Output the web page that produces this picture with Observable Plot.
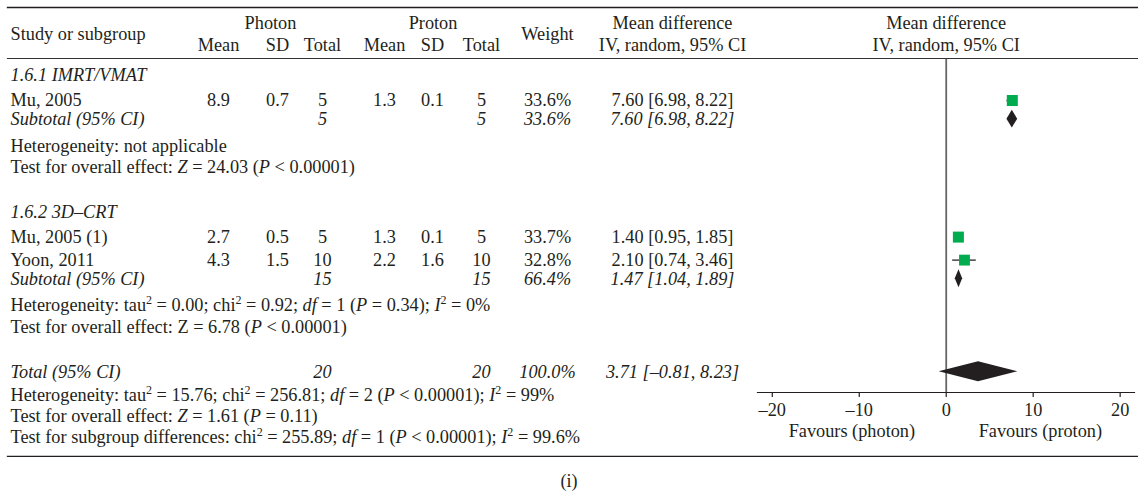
<!DOCTYPE html>
<html><head><meta charset="utf-8">
<script src="https://cdn.jsdelivr.net/npm/d3@7"></script>
<script src="https://cdn.jsdelivr.net/npm/@observablehq/plot@0.6"></script>
<style>
body{margin:0;background:#fff;font-family:"Liberation Serif",serif;color:#231f20}
#wrap{position:relative;width:1138px}
#body{position:relative;height:398px}
#forest{position:absolute;left:745px;top:0;width:393px}
#cap{text-align:center;font-size:18px;line-height:24px;margin-top:12px;width:1138px}
svg{display:block}
</style></head><body>
<div id="wrap"><div id="head"></div><div id="body"><div id="table"></div><div id="forest"></div></div><div id="cap">(i)</div></div>
<script>
// ---------- data ----------
const subgroups = ["1.6.1 IMRT/VMAT", "1.6.2 3D–CRT"];
const studies = ["Mu, 2005", "Mu, 2005 (1)", "Yoon, 2011"];
const studyGroup = [0, 1, 1];
const photonMean = [8.9, 2.7, 4.3];
const photonSD = [0.7, 0.5, 1.5];
const photonTotal = [5, 5, 10];
const protonMean = [1.3, 1.3, 2.2];
const protonSD = [0.1, 0.1, 1.6];
const protonTotal = [5, 5, 10];
const studyWeight = [33.6, 33.7, 32.8];
const studyMD = [7.60, 1.40, 2.10];
const studyLo = [6.98, 0.95, 0.74];
const studyHi = [8.22, 1.85, 3.46];

const subPhotonTotal = [5, 15];
const subProtonTotal = [5, 15];
const subWeight = [33.6, 66.4];
const subMD = [7.60, 1.47];
const subLo = [6.98, 1.04];
const subHi = [8.22, 1.89];
const subHeterogeneity = [
  "Heterogeneity: not applicable",
  "Heterogeneity: tau^{2} = 0.00; chi^{2} = 0.92; _df_ = 1 (_P_ = 0.34); _I_^{2} = 0%"
];
const subOverall = [
  "Test for overall effect: _Z_ = 24.03 (_P_ < 0.00001)",
  "Test for overall effect: Z = 6.78 (_P_ < 0.00001)"
];

const totalLabel = "Total (95% CI)";
const totalPhoton = 20, totalProton = 20, totalWeight = 100.0;
const totalMD = 3.71, totalLo = -0.81, totalHi = 8.23;
const totalLines = [
  "Heterogeneity: tau^{2} = 15.76; chi^{2} = 256.81; _df_ = 2 (_P_ < 0.00001); _I_^{2} = 99%",
  "Test for overall effect: _Z_ = 1.61 (_P_ = 0.11)",
  "Test for subgroup differences: chi^{2} = 255.89; _df_ = 1 (_P_ < 0.00001); _I_^{2} = 99.6%"
];

const headStudy = "Study or subgroup";
const headGroups = ["Photon", "Proton"];
const headSub = ["Mean", "SD", "Total"];
const headWeight = "Weight";
const headMD = ["Mean difference", "IV, random, 95% CI"];
const xTicks = [-20, -10, 0, 10, 20];
const xDomain = [-21.7, 21.65];
const favours = ["Favours (photon)", "Favours (proton)"];

// ---------- styles / layout ----------
const ink = "#231f20", green = "#00ac4e";
const FONT = "'Liberation Serif', serif", FS = "18.3px";
const colX = {study: 10, pMean: 218, pSD: 277, pTotal: 322, qMean: 384, qSD: 432, qTotal: 481, weight: 547, md: 672};
// vertical gap (in line units) before a row, depending on the previous row kind
function gap(prev, kind) {
  if (prev === null) return 0;
  if (prev === "blank") return 2.05;
  if (kind === "blank") return 0;
  if (kind === "subtotal") return 0.85;
  if (kind === "study") return prev === "group" ? 1.14 : 1.05;
  if (kind === "note") return prev === "subtotal" ? 1.22 : prev === "total" ? 1.06 : 0.97;
  return 1;
}

const minus = v => (v < 0 ? "–" + Math.abs(v) : String(v));
const f2 = v => (v < 0 ? "–" + Math.abs(v).toFixed(2) : v.toFixed(2));
const ci = (m, l, h) => `${f2(m)} [${f2(l)}, ${f2(h)}]`;

// ---------- rows ----------
const rows = [];
subgroups.forEach((g, gi) => {
  rows.push({kind: "group", label: g});
  studies.forEach((s, i) => {
    if (studyGroup[i] !== gi) return;
    rows.push({kind: "study", label: s, i,
      vals: {pMean: photonMean[i].toFixed(1), pSD: photonSD[i].toFixed(1), pTotal: photonTotal[i],
             qMean: protonMean[i].toFixed(1), qSD: protonSD[i].toFixed(1), qTotal: protonTotal[i],
             weight: studyWeight[i].toFixed(1) + "%", md: ci(studyMD[i], studyLo[i], studyHi[i])}});
  });
  rows.push({kind: "subtotal", label: "Subtotal (95% CI)", gi,
    vals: {pTotal: subPhotonTotal[gi], qTotal: subProtonTotal[gi], weight: subWeight[gi].toFixed(1) + "%", md: ci(subMD[gi], subLo[gi], subHi[gi])}});
  rows.push({kind: "note", label: subHeterogeneity[gi]});
  rows.push({kind: "note", label: subOverall[gi]});
  rows.push({kind: "blank"});
});
rows.push({kind: "total", label: totalLabel,
  vals: {pTotal: totalPhoton, qTotal: totalProton, weight: totalWeight.toFixed(1) + "%", md: ci(totalMD, totalLo, totalHi)}});
totalLines.forEach(l => rows.push({kind: "note", label: l}));
{
  let acc = 0, prev = null;
  rows.forEach(r => { acc += gap(prev, r.kind); r.row = acc; prev = r.kind; });
}
const lastLine = rows[rows.length - 1].row;
const ySc = {domain: [0, lastLine], range: [16, 378], axis: null};

const cells = [];
rows.forEach(r => {
  if (r.kind === "blank") return;
  const italic = r.kind === "group" || r.kind === "subtotal" || r.kind === "total";
  cells.push({row: r.row, col: "study", text: r.label, italic});
  if (r.vals) for (const [c, v] of Object.entries(r.vals)) cells.push({row: r.row, col: c, text: String(v), italic});
});

const studyRows = rows.filter(r => r.kind === "study").map(r => ({row: r.row, md: studyMD[r.i], lo: studyLo[r.i], hi: studyHi[r.i], weight: studyWeight[r.i]}));
const diamonds = [];
rows.forEach(r => {
  if (r.kind === "subtotal") diamonds.push({id: "s" + r.gi, row: r.row, m: subMD[r.gi], l: subLo[r.gi], h: subHi[r.gi], hh: 0.41});
  if (r.kind === "total") diamonds.push({id: "t", row: r.row, m: totalMD, l: totalLo, h: totalHi, hh: 0.46});
});
const diamondPts = diamonds.flatMap(d => [
  {id: d.id, y: d.row - d.hh, x1: d.m, x2: d.m},
  {id: d.id, y: d.row, x1: d.l, x2: d.h},
  {id: d.id, y: d.row + d.hh, x1: d.m, x2: d.m}
]);

// ---------- rich text (italic / superscript) ----------
function richify(svg) {
  const NS = "http://www.w3.org/2000/svg";
  svg.querySelectorAll("text").forEach(t => {
    const s = t.textContent;
    if (!/[_^]/.test(s)) return;
    while (t.firstChild) t.removeChild(t.firstChild);
    const re = /_([^_]+)_|\^\{([^}]*)\}|([^_^]+)/g;
    let m, raised = false;
    while ((m = re.exec(s))) {
      const ts = document.createElementNS(NS, "tspan");
      if (m[2] !== undefined) {
        ts.textContent = m[2]; ts.setAttribute("font-size", "12"); ts.setAttribute("dy", "-7"); raised = true;
      } else {
        ts.textContent = m[1] !== undefined ? m[1] : m[3];
        if (m[1] !== undefined) ts.setAttribute("font-style", "italic");
        if (raised) { ts.setAttribute("dy", "7"); raised = false; }
      }
      t.appendChild(ts);
    }
  });
}

// ---------- forest plot ----------
const forest = Plot.plot({
  width: 393, height: 398, marginLeft: 12, marginRight: 4, marginTop: 0, marginBottom: 65,
  x: {domain: xDomain, axis: null},
  y: ySc,
  r: {domain: [0, 100], range: [0, 10.7]},
  style: {background: "transparent", fontFamily: FONT, fontSize: FS, color: ink, overflow: "visible"},
  marks: [
    Plot.frame({anchor: "bottom", stroke: ink, strokeWidth: 1.2}),
    Plot.ruleX([0], {stroke: "#666", strokeWidth: 1.8}),
    Plot.axisX(xTicks, {anchor: "bottom", tickSize: 5, tickPadding: 5, tickFormat: minus, stroke: ink, fill: ink, strokeWidth: 1.2}),
    Plot.ruleY(studyRows, {y: "row", x1: "lo", x2: "hi", stroke: "#444", strokeWidth: 1.5}),
    Plot.dot(studyRows, {x: "md", y: "row", r: "weight", symbol: "square", fill: green}),
    Plot.areaX(diamondPts, {y: "y", x1: "x1", x2: "x2", z: "id", fill: ink, curve: "linear"}),
    Plot.text(favours, {x: (d, i) => xDomain[i] / 2, text: d => d, frameAnchor: "bottom", dy: 44, fill: ink})
  ]
});
document.getElementById("forest").appendChild(forest);
const forestCenter = 745 + forest.scale("x").apply(0);

// ---------- table body ----------
const tmark = (filter, anchor, italic) => Plot.text(cells.filter(filter), {
  x: c => colX[c.col], y: "row", text: "text", textAnchor: anchor, fill: ink, fontStyle: italic ? "italic" : "normal"
});
const table = Plot.plot({
  width: 1138, height: 398, marginLeft: 7, marginRight: 0, marginTop: 0, marginBottom: 1,
  x: {type: "identity", axis: null},
  y: ySc,
  style: {fontFamily: FONT, fontSize: FS, color: ink},
  marks: [
    Plot.frame({anchor: "bottom", stroke: ink, strokeWidth: 1.3}),
    tmark(c => c.col === "study" && !c.italic, "start", false),
    tmark(c => c.col === "study" && c.italic, "start", true),
    tmark(c => c.col !== "study" && !c.italic, "middle", false),
    tmark(c => c.col !== "study" && c.italic, "middle", true)
  ]
});
richify(table);
document.getElementById("table").appendChild(table);

// ---------- header ----------
const head = [
  {text: headStudy, x: colX.study, line: "mid", a: "start"},
  {text: headGroups[0], x: (colX.pMean + colX.pTotal) / 2, line: "top", a: "middle"},
  {text: headGroups[1], x: (colX.qMean + colX.qTotal) / 2, line: "top", a: "middle"},
  ...headSub.map((t, i) => ({text: t, x: colX[["pMean", "pSD", "pTotal"][i]], line: "sub", a: "middle"})),
  ...headSub.map((t, i) => ({text: t, x: colX[["qMean", "qSD", "qTotal"][i]], line: "sub", a: "middle"})),
  {text: headWeight, x: colX.weight, line: "mid", a: "middle"},
  {text: headMD[0], x: colX.md, line: "top", a: "middle"},
  {text: headMD[1], x: colX.md, line: "sub", a: "middle"},
  {text: headMD[0], x: forestCenter, line: "top", a: "middle"},
  {text: headMD[1], x: forestCenter, line: "sub", a: "middle"}
];
const header = Plot.plot({
  width: 1138, height: 59, marginLeft: 7, marginRight: 0, marginTop: 7, marginBottom: 1,
  x: {type: "identity", axis: null},
  y: {type: "point", domain: ["top", "mid", "sub"], range: [22, 45], padding: 0, axis: null},
  style: {fontFamily: FONT, fontSize: FS, color: ink},
  marks: [
    Plot.frame({anchor: "top", stroke: ink, strokeWidth: 1.4}),
    Plot.frame({anchor: "bottom", stroke: "#333", strokeWidth: 1.2}),
    Plot.text(head.filter(d => d.a === "start"), {x: "x", y: "line", text: "text", textAnchor: "start", fill: ink}),
    Plot.text(head.filter(d => d.a === "middle"), {x: "x", y: "line", text: "text", textAnchor: "middle", fill: ink})
  ]
});
document.getElementById("head").appendChild(header);
</script>
</body></html>
